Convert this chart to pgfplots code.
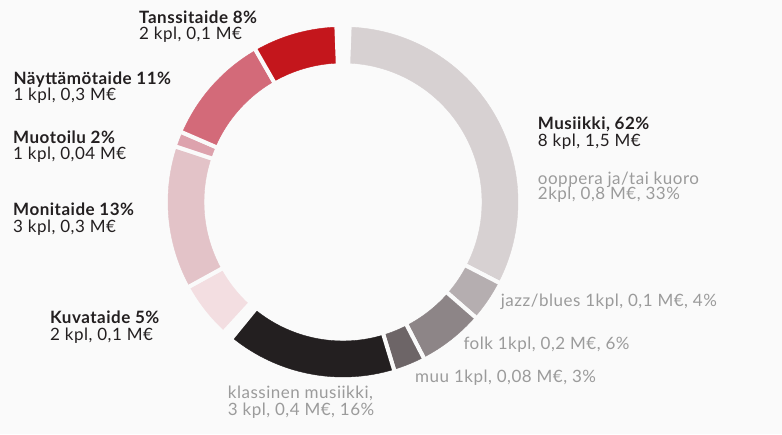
\documentclass[border=0pt]{standalone}
\usepackage{pgfplots}
\pgfplotsset{compat=1.18}
\usepackage{fontspec}
\setmainfont{Lato}[LetterSpace=3]
\definecolor{bg}{HTML}{FAFAFA}
\definecolor{ink}{HTML}{231F20}
\definecolor{soft}{HTML}{9B9B9B}
\definecolor{cTanssi}{HTML}{C4161C}
\definecolor{cNayt}{HTML}{D36A79}
\definecolor{cMuot}{HTML}{DDA2AD}
\definecolor{cMoni}{HTML}{E3C3C8}
\definecolor{cKuva}{HTML}{F3DEE1}
\definecolor{cKlass}{HTML}{231F20}
\definecolor{cMuu}{HTML}{6D6567}
\definecolor{cFolk}{HTML}{8D8587}
\definecolor{cJazz}{HTML}{B5AEB0}
\definecolor{cOopp}{HTML}{D7D1D2}

% empty mark: the sector itself is drawn by the marker code
\pgfdeclareplotmark{blank}{}
\pgfplotsset{
  sector/.style={
    only marks, scatter, mark=blank,
    visualization depends on={value \thisrow{from}\as\aS},
    visualization depends on={value \thisrow{to}\as\aE},
    scatter/@pre marker code/.code={%
      \pgfmathsetmacro\sa{90-3.6*\aS}%
      \pgfmathsetmacro\ea{90-3.6*\aE}%
      \fill[#1] (\sa:175pt) arc[start angle=\sa,end angle=\ea,radius=175pt]
        -- (\ea:139pt) arc[start angle=\ea,end angle=\sa,radius=139pt] -- cycle;
      \draw[bg,line width=4pt] (\sa:136pt) -- (\sa:178pt) (\ea:136pt) -- (\ea:178pt);
    },
    scatter/@post marker code/.code={},
  },
}
\tikzset{
  lbl/.style={anchor=base west,font=\fontsize{17}{18}\selectfont,inner sep=0pt},
  blbl/.style={lbl,font=\fontsize{17}{18}\selectfont\bfseries},
}

\begin{document}
\begin{tikzpicture}
\begin{axis}[
  width=782pt,height=434pt,scale only axis,
  xmin=0,xmax=782,ymin=0,ymax=434,
  axis line style={draw=none},ticks=none,clip=false,
  axis background/.style={fill=bg},
]
% share of the ring, in percent of a full turn (start, end)
\addplot[sector=cOopp]   table[row sep=\\] {x y from to\\ 343 232 0.6 32.6\\};
\addplot[sector=cJazz]   table[row sep=\\] {x y from to\\ 343 232 32.6 36.4\\};
\addplot[sector=cFolk]   table[row sep=\\] {x y from to\\ 343 232 36.4 42.4\\};
\addplot[sector=cMuu]    table[row sep=\\] {x y from to\\ 343 232 42.4 45.3\\};
\addplot[sector=cKlass]  table[row sep=\\] {x y from to\\ 343 232 45.3 60.9\\};
\addplot[sector=cKuva]   table[row sep=\\] {x y from to\\ 343 232 61.8 67.0\\};
\addplot[sector=cMoni]   table[row sep=\\] {x y from to\\ 343 232 67.0 80.1\\};
\addplot[sector=cMuot]   table[row sep=\\] {x y from to\\ 343 232 80.1 81.5\\};
\addplot[sector=cNayt]   table[row sep=\\] {x y from to\\ 343 232 81.5 91.7\\};
\addplot[sector=cTanssi] table[row sep=\\] {x y from to\\ 343 232 91.7 99.4\\};

\node[blbl,text=ink] at (axis cs:139,410.7) {Tanssitaide 8\%};
\node[lbl,text=ink] at (axis cs:139,394) {2 kpl, 0,1 M€};
\node[blbl,text=ink] at (axis cs:13.3,349.7) {Näyttämötaide 11\%};
\node[lbl,text=ink] at (axis cs:13.3,333.3) {1 kpl, 0,3 M€};
\node[blbl,text=ink] at (axis cs:13,290.7) {Muotoilu 2\%};
\node[lbl,text=ink] at (axis cs:13,274) {1 kpl, 0,04 M€};
\node[blbl,text=ink] at (axis cs:13,218.2) {Monitaide 13\%};
\node[lbl,text=ink] at (axis cs:13,201) {3 kpl, 0,3 M€};
\node[blbl,text=ink] at (axis cs:50,110.7) {Kuvataide 5\%};
\node[lbl,text=ink] at (axis cs:50,93.3) {2 kpl, 0,1 M€};
\node[blbl,text=ink] at (axis cs:537.7,304.7) {Musiikki, 62\%};
\node[lbl,text=ink] at (axis cs:537.7,287.3) {8 kpl, 1,5 M€};
\node[lbl,text=soft] at (axis cs:537.7,249.7) {ooppera ja/tai kuoro};
\node[lbl,text=soft] at (axis cs:537.7,234) {2kpl, 0,8 M€, 33\%};
\node[lbl,text=soft] at (axis cs:500.7,127) {jazz/blues 1kpl, 0,1 M€, 4\%};
\node[lbl,text=soft] at (axis cs:463.3,84) {folk 1kpl, 0,2 M€, 6\%};
\node[lbl,text=soft] at (axis cs:415,51.7) {muu 1kpl, 0,08 M€, 3\%};
\node[lbl,text=soft] at (axis cs:227.7,35.7) {klassinen musiikki,};
\node[lbl,text=soft] at (axis cs:227.7,19) {3 kpl, 0,4 M€, 16\%};
\end{axis}
\end{tikzpicture}
\end{document}
